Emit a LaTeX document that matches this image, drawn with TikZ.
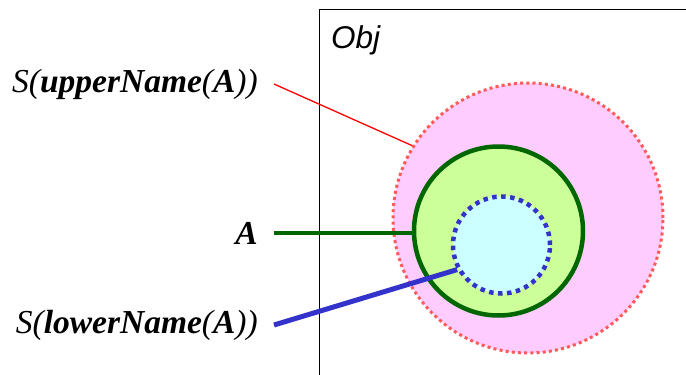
\documentclass[tikz,border=0pt]{standalone}
\usepackage{fontspec}
\setmainfont{Liberation Serif}
\newfontfamily\objfont{Liberation Sans}
\definecolor{pinkfill}{HTML}{FFCCFF}
\definecolor{pinkline}{HTML}{FF5A5A}
\definecolor{greenfill}{HTML}{CCFF99}
\definecolor{greenline}{HTML}{006600}
\definecolor{cyanfill}{HTML}{CCFFFF}
\definecolor{blueline}{HTML}{3333CC}
\tikzset{
  lbl/.style={anchor=east, inner sep=0pt, font=\fontsize{33.5}{40}\selectfont\itshape},
  circ/.style={circle, inner sep=0pt, minimum size=#1},
}
\newcommand{\bi}[1]{\textbf{#1}}
\begin{document}
\begin{tikzpicture}[x=1pt,y=-1pt]
\useasboundingbox (0,0) rectangle (686,375);
% Obj frame
\draw[black, line width=1pt] (319,375) -- (319,9) -- (690,9);
\node[anchor=base west, inner sep=0pt, font=\objfont\itshape\fontsize{31.5}{36}\selectfont] (obj) at (331,48) {Obj};
% circles
\node[circ=270pt, fill=pinkfill, draw=pinkline, line width=3pt, dash pattern=on 3pt off 3.2pt] (pink) at (528,218) {};
\node[circ=169pt, fill=greenfill, draw=greenline, line width=4.5pt] (green) at (498.5,231) {};
\node[circ=97pt, fill=cyanfill, draw=blueline, line width=4.5pt, dash pattern=on 4.5pt off 4.5pt] (cyan) at (501.5,245) {};
% labels
\node[lbl] (up) at (258,84) {S(\bi{upperName}(\bi{A}))};
\node[lbl] (a) at (258,233) {\bi{A}};
\node[lbl] (low) at (258,325) {S(\bi{lowerName}(\bi{A}))};
% connectors
\draw[red, line width=1.3pt] ([xshift=16pt]up.east) -- (pink.148);
\draw[greenline, line width=4pt] ([xshift=16pt]a.east) -- (a.east -| green.west);
\draw[blueline, line width=5pt] ([xshift=16pt]low.east) -- (cyan.209);
\end{tikzpicture}
\end{document}
